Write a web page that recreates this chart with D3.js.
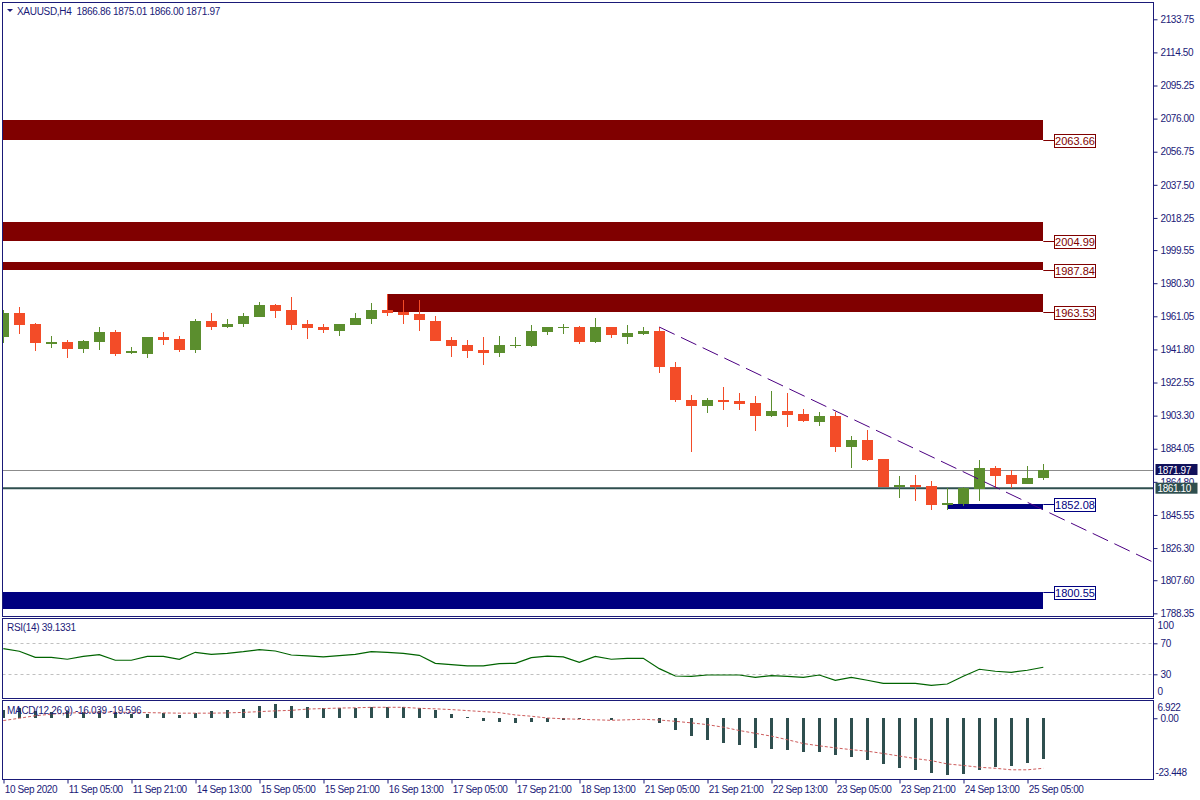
<!DOCTYPE html>
<html><head><meta charset="utf-8">
<script src="https://cdn.jsdelivr.net/npm/d3@7"></script>
<style>
body{margin:0;background:#fff}
svg{display:block}
text{font-family:"Liberation Sans",Arial,sans-serif}
</style>
</head><body>
<svg id="chart" width="1200" height="800"></svg>
<script>
// ---------- DATA ----------
const symbolTitle = "XAUUSD,H4  1866.86 1875.01 1866.00 1871.97";
const tickLabels = ["10 Sep 2020","11 Sep 05:00","11 Sep 21:00","14 Sep 13:00","15 Sep 05:00","15 Sep 21:00","16 Sep 13:00","17 Sep 05:00","17 Sep 21:00","18 Sep 13:00","21 Sep 05:00","21 Sep 21:00","22 Sep 13:00","23 Sep 05:00","23 Sep 21:00","24 Sep 13:00","25 Sep 05:00"];
const tickEvery = 4;

const openP  = [1949.15,1963.0,1956.56,1945.07,1946.06,1942.15,1946.2,1951.9,1939.8,1939.2,1949.0,1947.8,1941.6,1958.3,1955.0,1956.7,1960.8,1967.6,1964.7,1956.56,1954.8,1952.65,1956.15,1959.65,1964.7,1963.6,1962.4,1958.3,1947.2,1944.3,1941.4,1939.8,1943.7,1943.9,1952.1,1954.4,1954.8,1946.2,1954.8,1949.15,1950.9,1952.5,1931.5,1912.4,1908.9,1912.4,1911.8,1910.65,1903.05,1906.0,1904.2,1899.55,1903.05,1885.0,1888.9,1878.0,1861.6,1862.8,1862.2,1851.1,1851.7,1860.5,1872.7,1868.6,1863.4,1866.86];
const highP  = [1964.7,1966.5,1957.15,1949.56,1947.2,1947.2,1954.8,1953.1,1943.1,1949.0,1951.9,1949.6,1959.5,1963.0,1959.5,1963.0,1969.4,1968.2,1972.3,1958.9,1956.56,1956.56,1963.0,1968.8,1974.1,1970.6,1970.6,1961.2,1949.0,1947.2,1949.0,1949.6,1949.0,1956.0,1954.8,1956.56,1955.4,1960.0,1954.8,1956.0,1954.8,1954.8,1934.4,1915.3,1913.6,1920.0,1916.5,1914.7,1917.6,1916.5,1907.15,1905.4,1905.4,1891.2,1894.7,1878.0,1868.1,1868.6,1865.1,1861.05,1861.6,1877.4,1873.9,1871.55,1873.9,1875.01];
const lowP   = [1945.3,1950.9,1941.0,1942.7,1936.9,1939.8,1941.6,1938.1,1939.2,1936.9,1944.5,1940.4,1939.8,1953.2,1954.4,1955.0,1960.8,1960.2,1953.2,1948.0,1951.5,1949.7,1956.15,1956.7,1961.4,1956.7,1952.65,1946.8,1937.5,1936.9,1932.8,1937.5,1942.7,1943.3,1950.3,1950.9,1945.1,1945.65,1948.6,1945.1,1950.3,1928.15,1911.2,1882.06,1904.8,1906.6,1906.6,1894.3,1902.5,1896.6,1899.55,1897.2,1882.06,1872.7,1876.8,1861.6,1855.2,1853.5,1848.2,1848.2,1850.5,1853.5,1861.05,1861.05,1863.4,1866.0];
const closeP = [1963.15,1956.15,1945.65,1946.06,1941.98,1946.64,1951.9,1939.2,1940.8,1949.0,1947.4,1941.6,1958.3,1955.0,1956.56,1961.2,1967.6,1964.3,1956.15,1954.4,1953.2,1956.56,1960.0,1964.7,1963.15,1962.0,1959.1,1946.8,1943.9,1941.0,1939.8,1944.3,1944.3,1952.5,1954.8,1954.8,1946.2,1954.8,1950.3,1951.3,1952.5,1931.65,1912.4,1908.9,1912.4,1911.2,1910.1,1903.05,1906.0,1903.6,1900.1,1903.05,1885.0,1888.9,1877.4,1861.6,1862.8,1861.6,1851.1,1852.3,1861.05,1872.7,1868.05,1863.4,1866.9,1871.97];

const rsiValues = [63.1,59.7,51.9,51.9,49.4,53.2,55.4,48.1,48.1,53.2,53.2,49.4,58.4,55.8,57.1,59.2,61.8,60.1,54.9,53.7,52.4,54.1,55.8,59.2,58.4,57.1,54.5,44.2,42.5,40.8,40.8,43.8,44.2,51.5,53.5,52.4,45.5,53.2,49.4,50.6,50.6,37.3,27.8,27.4,29.1,29.1,29.1,26.1,28.3,27.4,26.1,29.1,22.3,26.1,22.3,18.4,18.4,18.4,15.8,17.5,27.4,36.5,33.9,32.6,35.2,39.13];
const rsiLevels = [70, 30];
const rsiEdgeLabels = [100, 0];
const rsiTitle = "RSI(14) 39.1331";

const macdHist = [3.3,3.9,2.9,2.6,2.9,2.6,3.0,2.6,1.7,1.7,2.0,1.4,2.2,2.9,3.3,3.8,5.0,5.4,5.0,4.4,4.0,4.0,4.0,4.3,4.6,4.6,4.0,3.1,1.6,0.4,-0.9,-1.6,-2.0,-1.6,-1.3,-0.5,-0.4,0.2,-0.5,0.1,0.1,-1.8,-4.7,-7.0,-8.6,-9.8,-10.6,-11.7,-12.1,-12.5,-13.3,-13.3,-14.5,-15.3,-16.4,-18.0,-19.6,-20.4,-21.5,-22.3,-21.9,-20.4,-19.2,-18.8,-17.6,-16.04];
const macdSignal = [-0.9,0.0,1.0,1.6,2.0,2.3,2.4,2.4,2.3,2.2,2.1,2.0,2.0,2.0,2.1,2.3,2.6,2.9,3.1,3.6,3.8,4.0,4.1,4.3,4.3,4.3,3.9,3.7,3.4,3.0,2.6,2.2,1.3,0.8,0.1,-0.2,-0.4,-0.6,-0.8,-0.6,-0.4,-0.7,-1.2,-1.8,-2.5,-3.5,-4.8,-5.9,-7.0,-8.4,-9.9,-10.8,-11.6,-12.3,-12.9,-13.8,-14.8,-15.8,-16.6,-17.9,-18.5,-19.2,-19.6,-20.2,-20.2,-19.6];
const macdRange = [-23.448, 6.922];
const macdTitle = "MACD(12,26,9) -16.039 -19.596";

const priceTicks = [2133.75,2114.50,2095.25,2076.00,2056.75,2037.50,2018.25,1999.55,1980.30,1961.05,1941.80,1922.55,1903.30,1884.05,1864.80,1845.55,1826.30,1807.60,1788.35];
const priceRange = [1786.8, 2143.8];

const zoneLevel = [2063.66, 2004.99, 1987.84, 1963.53, 1852.08, 1800.55];
const zoneEdge  = [2075.2, 2016.1, 1992.6, 1974.0, 1849.2, 1790.7];
const zoneStart = [-1, -1, -1, 24, 59, -1];
const zoneEnd   = [65, 65, 65, 65, 65, 65];
const zoneKind  = ["res","res","res","res","sup","sup"];

const trendIdx = [41, 65];
const trendPrice = [1954.8, 1848.5];
const bidPrice = 1871.97;
const levelPrice = 1861.10;

// ---------- STYLE / LAYOUT ----------
const C = {
  frame:"#1a1a78", text:"#1a1a78", up:"#5b8e2e", down:"#f34c28",
  res:"#800000", sup:"#000080", trend:"#4b0082", bid:"#8c8c8c",
  level:"#2f4f4f", bidBox:"#10105a", rsi:"#006400", lvl:"#c0c0c0",
  hist:"#2f4f4f", sig:"#cd5c5c"
};
const L = 2.5, R = 1153.5;
const P = { main:[2.5,616.5], rsi:[618.5,698.5], macd:[700.5,779.5] };
const FONT = "10px";

const svg = d3.select("#chart");
svg.append("rect").attr("width",1200).attr("height",800).attr("fill","#fff");

const x = d3.scaleLinear().domain([0, openP.length-1]).range([3.3, 1043.3]);
const y = d3.scaleLinear().domain(priceRange).range([616, 2]);
const yr = d3.scaleLinear().domain([0,100]).range([697.55, 620.05]);
const ym = d3.scaleLinear().domain(macdRange).range([778.1, 700.6]);

const defs = svg.append("defs");
function clip(id, top, bot){
  defs.append("clipPath").attr("id",id).append("rect")
    .attr("x",L+0.5).attr("y",top+0.5).attr("width",R-L-1).attr("height",bot-top-1);
  return "url(#"+id+")";
}
const gMain = svg.append("g").attr("clip-path", clip("cm",...P.main));
const gRsi = svg.append("g").attr("clip-path", clip("cr",...P.rsi));
const gMacd = svg.append("g").attr("clip-path", clip("cd",...P.macd));

// zones
const zones = zoneLevel.map((v,i)=>({lvl:v, edge:zoneEdge[i], s:zoneStart[i], e:zoneEnd[i], k:zoneKind[i]}));
gMain.selectAll("rect.zone").data(zones).join("rect")
  .attr("x", d=> d.s < 0 ? L : x(d.s))
  .attr("width", d=> x(d.e) - (d.s < 0 ? L : x(d.s)))
  .attr("y", d=> y(Math.max(d.lvl,d.edge)))
  .attr("height", d=> Math.abs(y(d.lvl)-y(d.edge)))
  .attr("fill", d=> C[d.k]).attr("shape-rendering","crispEdges");

// horizontal lines
gMain.append("line").attr("x1",L).attr("x2",R).attr("y1",Math.round(y(bidPrice))+0.5).attr("y2",Math.round(y(bidPrice))+0.5)
  .attr("stroke",C.bid).attr("stroke-width",1);
gMain.append("line").attr("x1",L).attr("x2",R).attr("y1",y(levelPrice)).attr("y2",y(levelPrice))
  .attr("stroke",C.level).attr("stroke-width",2);

// candles
const candles = openP.map((o,i)=>({i, o, h:highP[i], l:lowP[i], c:closeP[i]}));
const cg = gMain.append("g").attr("shape-rendering","crispEdges");
cg.selectAll("line.wick").data(candles).join("line")
  .attr("x1",d=>Math.round(x(d.i))+0.5).attr("x2",d=>Math.round(x(d.i))+0.5)
  .attr("y1",d=>y(d.h)).attr("y2",d=>y(d.l))
  .attr("stroke",d=> d.c>=d.o?C.up:C.down).attr("stroke-width",1);
cg.selectAll("rect.body").data(candles).join("rect")
  .attr("x",d=>Math.round(x(d.i))-5).attr("width",11)
  .attr("y",d=>y(Math.max(d.o,d.c))).attr("height",d=>Math.max(1,Math.abs(y(d.o)-y(d.c))))
  .attr("fill",d=> d.c>=d.o?C.up:C.down);

// trend line
const slope = (trendPrice[1]-trendPrice[0])/(trendIdx[1]-trendIdx[0]);
const endIdx = x.invert(R);
gMain.append("line")
  .attr("x1",x(trendIdx[0])).attr("y1",y(trendPrice[0]))
  .attr("x2",x(endIdx)).attr("y2",y(trendPrice[0]+slope*(endIdx-trendIdx[0])))
  .attr("stroke",C.trend).attr("stroke-width",1).attr("stroke-dasharray","17,7");

// zone labels (outside clip)
const zl = svg.append("g");
zones.forEach(d=>{
  const yy = Math.round(y(d.lvl))+0.5;
  zl.append("line").attr("x1",x(d.e)).attr("x2",1054).attr("y1",yy).attr("y2",yy).attr("stroke",C[d.k]);
  zl.append("rect").attr("x",1054.5).attr("y",yy-6.5).attr("width",41).attr("height",13)
    .attr("fill","#fff").attr("stroke",C[d.k]).attr("shape-rendering","crispEdges");
  zl.append("text").attr("x",1075).attr("y",yy+4).attr("text-anchor","middle")
    .attr("font-size","11px").attr("fill",C[d.k]).text(d.lvl.toFixed(2));
});

// RSI
gRsi.selectAll("line.lv").data(rsiLevels).join("line")
  .attr("x1",L).attr("x2",R).attr("y1",d=>Math.round(yr(d))+0.5).attr("y2",d=>Math.round(yr(d))+0.5)
  .attr("stroke",C.lvl).attr("stroke-dasharray","3,3");
gRsi.append("path").datum(rsiValues)
  .attr("d", d3.line().x((d,i)=>x(i)).y(d=>yr(d)))
  .attr("fill","none").attr("stroke",C.rsi).attr("stroke-width",1.2);

// MACD
gMacd.selectAll("rect.h").data(macdHist).join("rect")
  .attr("x",(d,i)=>Math.round(x(i))-1).attr("width",3)
  .attr("y",d=>Math.min(ym(d),ym(0))).attr("height",d=>Math.abs(ym(d)-ym(0)))
  .attr("fill",C.hist).attr("shape-rendering","crispEdges");
gMacd.append("path").datum(macdSignal)
  .attr("d", d3.line().x((d,i)=>x(i)).y(d=>ym(d)))
  .attr("fill","none").attr("stroke",C.sig).attr("stroke-width",1).attr("stroke-dasharray","3,2");

// panel frames
Object.values(P).forEach(([t,b])=>{
  svg.append("rect").attr("x",L).attr("y",t).attr("width",R-L).attr("height",b-t)
    .attr("fill","none").attr("stroke",C.frame).attr("shape-rendering","crispEdges");
});

// axes styling helper
function styleAxis(g){
  g.select(".domain").remove();
  g.selectAll("line").attr("stroke",C.frame);
  g.selectAll("text").attr("fill",C.text).attr("font-size",FONT)
    .attr("font-family",'"Liberation Sans",Arial,sans-serif').attr("letter-spacing","-0.4px");
}

// price axis
const ay = svg.append("g").attr("transform",`translate(${R},0)`)
  .call(d3.axisRight(y).tickValues(priceTicks).tickFormat(d=>d.toFixed(2)).tickSize(4).tickPadding(3));
styleAxis(ay);

// price boxes on axis
[[bidPrice,C.bidBox],[levelPrice,C.level]].forEach(([p,col])=>{
  const yy = y(p);
  svg.append("rect").attr("x",R+2).attr("y",yy-5.5).attr("width",42).attr("height",11).attr("fill",col);
  svg.append("text").attr("x",R+4).attr("y",yy+4).attr("fill","#fff").attr("font-size",FONT)
    .attr("letter-spacing","-0.4px").text(p.toFixed(2));
});

// RSI axis
const ar = svg.append("g").attr("transform",`translate(${R},0)`)
  .call(d3.axisRight(yr).tickValues(rsiLevels).tickFormat(d3.format("d")).tickSize(4).tickPadding(3));
styleAxis(ar);
svg.append("text").attr("x",R+4).attr("y",yr(100)+9).attr("fill",C.text).attr("font-size",FONT).text(rsiEdgeLabels[0]);
svg.append("text").attr("x",R+4).attr("y",yr(0)-3).attr("fill",C.text).attr("font-size",FONT).text(rsiEdgeLabels[1]);

// MACD axis
const am = svg.append("g").attr("transform",`translate(${R},0)`)
  .call(d3.axisRight(ym).tickValues([0]).tickFormat(d=>d.toFixed(2)).tickSize(4).tickPadding(3));
styleAxis(am);
svg.append("text").attr("x",R+4).attr("y",ym(macdRange[1])+10).attr("fill",C.text).attr("font-size",FONT)
  .attr("letter-spacing","-0.4px").text(macdRange[1].toFixed(3));
svg.append("text").attr("x",R+2).attr("y",ym(macdRange[0])-2).attr("fill",C.text).attr("font-size",FONT)
  .attr("letter-spacing","-0.4px").text(macdRange[0].toFixed(3));

// time axis
const tIdx = tickLabels.map((d,i)=>i*tickEvery);
const ax = svg.append("g").attr("transform",`translate(0,${P.macd[1]})`)
  .call(d3.axisBottom(x).tickValues(tIdx).tickFormat((d,i)=>tickLabels[i]).tickSize(4));
styleAxis(ax);
ax.selectAll(".tick line").attr("transform","translate(0.2,0)");
ax.selectAll("text").attr("text-anchor","start").attr("x",1).attr("y",13).attr("dy",0);

// titles
svg.append("path").attr("d","M7,9 L13,9 L10,12 Z").attr("fill",C.text);
svg.append("text").attr("x",17).attr("y",14.5).attr("fill",C.text).attr("font-size",FONT)
  .attr("letter-spacing","-0.3px").attr("xml:space","preserve").style("white-space","pre").text(symbolTitle);
svg.append("text").attr("x",7).attr("y",631).attr("fill",C.text).attr("font-size",FONT)
  .attr("letter-spacing","-0.3px").text(rsiTitle);
svg.append("text").attr("x",7).attr("y",713.5).attr("fill",C.text).attr("font-size",FONT)
  .attr("letter-spacing","-0.3px").text(macdTitle);
</script>
</body></html>
